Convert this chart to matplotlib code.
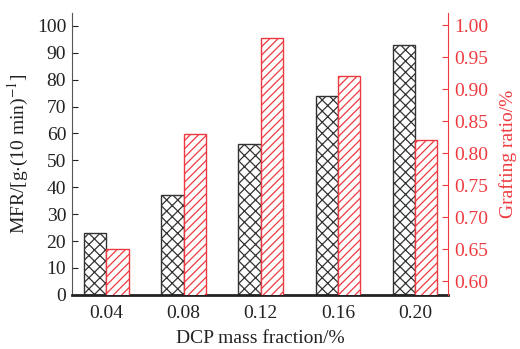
import matplotlib.pyplot as plt
import numpy as np

plt.rcParams['font.family'] = ['Liberation Serif', 'DejaVu Serif']
plt.rcParams['mathtext.fontset'] = 'stix'
plt.rcParams['hatch.linewidth'] = 0.9

# data
dcp = ['0.04', '0.08', '0.12', '0.16', '0.20']
mfr = [23, 37, 56, 74, 93]
grafting = [0.65, 0.83, 0.98, 0.92, 0.82]

red = '#ee3a3f'
dark = '#333333'

fig = plt.figure(figsize=(5.2, 3.49), dpi=100)
ax = fig.add_axes([0.138, 0.155, 0.724, 0.808])
ax2 = ax.twinx()

x = np.arange(len(dcp))
w = 0.29

ax.bar(x - w / 2, mfr, w, facecolor='white', edgecolor=dark, hatch='xxx', linewidth=1.0)
ax2.bar(x + w / 2, grafting, w, facecolor='white', edgecolor=red, hatch='////', linewidth=1.0)

ax.set_xlim(-0.45, 4.43)
ax.set_ylim(0, 104.8)
ax2.set_ylim(0.579, 1.019)

ax.set_xticks(x, dcp)
ax.set_yticks(np.arange(0, 101, 10))
ax2.set_yticks(np.arange(0.60, 1.001, 0.05))
ax2.set_yticklabels([f'{v:.2f}' for v in np.arange(0.60, 1.001, 0.05)])

fs = 14
ax.tick_params(axis='x', length=0, labelsize=fs, pad=7, colors='#222222')
ax.tick_params(axis='y', direction='in', length=4, labelsize=fs, pad=4, colors='#222222')
ax2.tick_params(axis='y', direction='in', length=4, labelsize=fs, pad=4,
                colors=red, labelcolor=red)

for a in (ax, ax2):
    a.spines['top'].set_visible(False)
ax.spines['right'].set_visible(False)
ax.spines['left'].set_color('#555555')
ax.spines['bottom'].set_linewidth(2)
ax.spines['bottom'].set_color('#222222')
ax2.spines['left'].set_visible(False)
ax2.spines['bottom'].set_visible(False)
ax2.spines['right'].set_color(red)

ax.set_xlabel('DCP mass fraction/%', fontsize=fs, color='#222222', labelpad=6)
ax.set_ylabel(r'MFR/[g$\cdot$(10 min)$^{-1}$]', fontsize=fs, color='#222222', labelpad=4)
ax2.set_ylabel('Grafting ratio/%', fontsize=fs, color=red, labelpad=8)

fig.savefig('out.png', dpi=100)
